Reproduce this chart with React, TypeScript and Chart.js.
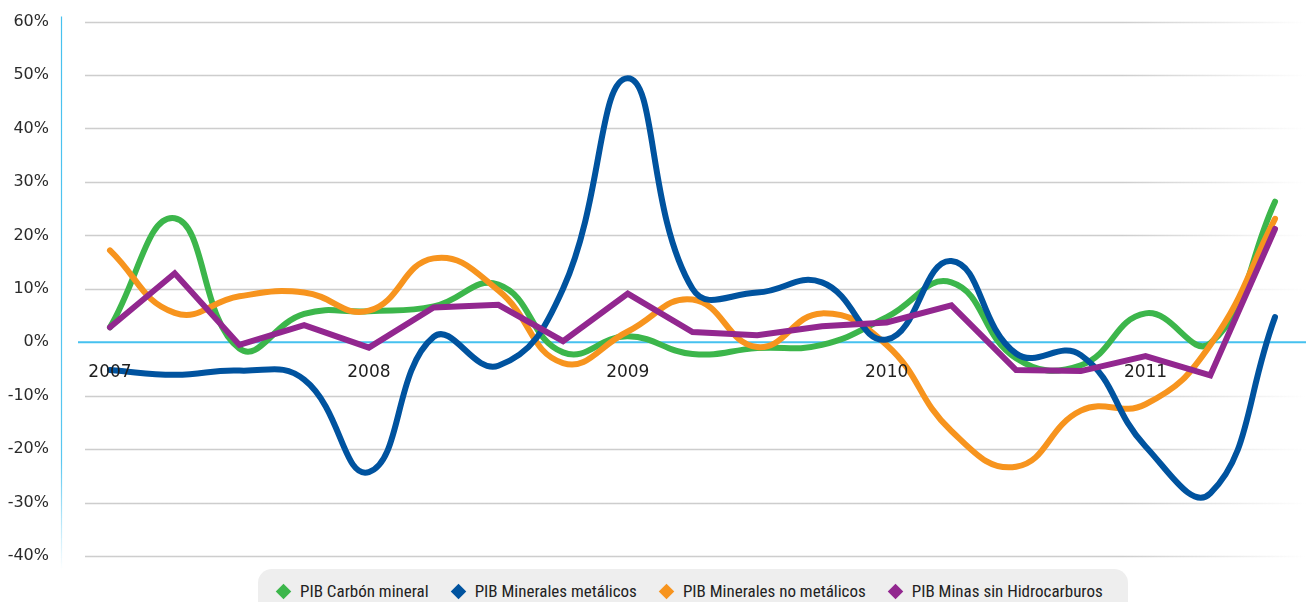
import { useEffect, useRef } from "react";
import { Chart, registerables } from "chart.js";

Chart.register(...registerables);

const quarters = [
  "2007-I", "2007-II", "2007-III", "2007-IV",
  "2008-I", "2008-II", "2008-III", "2008-IV",
  "2009-I", "2009-II", "2009-III", "2009-IV",
  "2010-I", "2010-II", "2010-III", "2010-IV",
  "2011-I", "2011-II", "2011-III",
];
const yearLabels = ["2007", "2008", "2009", "2010", "2011"];
const yearIndex = [0, 4, 8, 12, 16];

const carbon = [2.8, 23.2, -1.2, 5.3, 5.8, 6.7, 10.8, -1.9, 1.1, -2.2, -1.1, -0.5, 4.7, 11.2, -3.0, -4.3, 5.4, -0.2, 26.3];
const metalicos = [-5.2, -6.1, -5.3, -7.0, -24.3, 1.0, -4.4, 10.0, 49.4, 10.0, 9.3, 11.2, 0.5, 15.2, -2.1, -2.4, -19.5, -28.3, 4.7];
const noMetalicos = [17.2, 5.5, 8.6, 9.3, 5.9, 15.7, 9.7, -3.9, 2.0, 8.0, -0.9, 5.4, -0.5, -16.6, -23.3, -12.8, -11.6, -0.5, 23.1];
const minas = [2.8, 12.9, -0.5, 3.2, -1.0, 6.5, 7.0, 0.2, 9.1, 1.9, 1.3, 3.0, 3.7, 6.9, -5.2, -5.4, -2.6, -6.2, 21.2];

const seriesNames = [
  "PIB Carbón mineral",
  "PIB Minerales metálicos",
  "PIB Minerales no metálicos",
  "PIB Minas sin Hidrocarburos",
];
const seriesColors = ["#3CB64B", "#00539F", "#F7941E", "#92278F"];

export default function App() {
  const ref = useRef<HTMLCanvasElement>(null);

  useEffect(() => {
    document.body.style.margin = "0";
    document.body.style.overflow = "hidden";
    const canvas = ref.current;
    if (!canvas) return;
    const toPts = (vals: number[]) => vals.map((v, i) => ({ x: i, y: v }));

    const customPlugin = {
      id: "customDecor",
      beforeDatasetsDraw(chart: any) {
        const { ctx, chartArea, scales } = chart;
        const y = scales.y;
        ctx.save();
        const gStart = chartArea.left + 24;
        const grad = ctx.createLinearGradient(gStart, 0, chartArea.right, 0);
        grad.addColorStop(0, "rgba(200,200,200,0.9)");
        grad.addColorStop(0.85, "rgba(200,200,200,0.9)");
        grad.addColorStop(1, "rgba(200,200,200,0)");
        ctx.strokeStyle = grad;
        ctx.lineWidth = 1.3;
        y.ticks.forEach((t: any) => {
          if (t.value === 0) return;
          const py = Math.round(y.getPixelForValue(t.value)) + 0.5;
          ctx.beginPath();
          ctx.moveTo(gStart, py);
          ctx.lineTo(chartArea.right, py);
          ctx.stroke();
        });
        const zy = y.getPixelForValue(0);
        ctx.strokeStyle = "#46C1EF";
        ctx.lineWidth = 2;
        ctx.beginPath();
        ctx.moveTo(chartArea.left + 17, zy);
        ctx.lineTo(chartArea.right, zy);
        ctx.stroke();
        const ag = ctx.createLinearGradient(0, chartArea.top - 5, 0, chartArea.bottom + 14);
        ag.addColorStop(0, "rgba(70,193,239,1)");
        ag.addColorStop(0.8, "rgba(70,193,239,0.9)");
        ag.addColorStop(1, "rgba(70,193,239,0)");
        ctx.strokeStyle = ag;
        ctx.lineWidth = 1.2;
        ctx.beginPath();
        ctx.moveTo(chartArea.left + 0.5, chartArea.top - 5);
        ctx.lineTo(chartArea.left + 0.5, chartArea.bottom + 14);
        ctx.stroke();
        ctx.restore();
      },
      afterDatasetsDraw(chart: any) {
        const { ctx, scales } = chart;
        const x = scales.x;
        const y = scales.y;
        ctx.save();
        ctx.fillStyle = "#1e1e1e";
        ctx.font = "17px 'DejaVu Sans', sans-serif";
        ctx.textAlign = "center";
        ctx.textBaseline = "alphabetic";
        const base = y.getPixelForValue(0) + 35;
        yearLabels.forEach((lab, k) => {
          ctx.fillText(lab, x.getPixelForValue(yearIndex[k]), base);
        });
        ctx.restore();
      },
    };

    const allSeries = [carbon, metalicos, noMetalicos, minas];
    const orders = [4, 2, 3, 1];
    const chart = new Chart(canvas, {
      type: "line",
      data: {
        labels: quarters,
        datasets: allSeries.map((s, i) => ({
          label: seriesNames[i],
          data: toPts(s),
          borderColor: seriesColors[i],
          backgroundColor: seriesColors[i],
          borderWidth: 6,
          pointRadius: 0,
          pointHoverRadius: 0,
          tension: i === 3 ? 0 : 0.45,
          borderCapStyle: "round",
          borderJoinStyle: i === 3 ? "miter" : "round",
          fill: false,
          order: orders[i],
        })),
      },
      options: {
        animation: false,
        responsive: false,
        maintainAspectRatio: false,
        layout: { padding: { left: 8, right: 0, top: 20, bottom: 46 } },
        plugins: { legend: { display: false }, tooltip: { enabled: false } },
        scales: {
          x: { type: "linear", min: -0.757, max: 18.479, display: false },
          y: {
            min: -40,
            max: 60,
            ticks: {
              stepSize: 10,
              callback: (v: any) => v + "%",
              color: "#2a2a2a",
              font: { family: "'DejaVu Sans', sans-serif", size: 16 },
              padding: 12,
            },
            grid: { display: false, drawTicks: false },
            border: { display: false },
            afterFit: (s: any) => {
              s.width = 53;
            },
          },
        },
      },
      plugins: [customPlugin],
    } as any);
    return () => chart.destroy();
  }, []);

  return (
    <div style={{ position: "absolute", left: 0, top: 0, width: 1306, height: 602, overflow: "hidden", background: "#fff" }}>
      <canvas ref={ref} width={1306} height={602} style={{ width: 1306, height: 602, display: "block" }} />
      <div
        style={{
          position: "absolute",
          left: 258,
          top: 569,
          width: 870,
          height: 33,
          background: "#eeeeee",
          borderRadius: "14px 14px 0 0",
          display: "flex",
          alignItems: "center",
          paddingLeft: 18,
          paddingTop: 11,
          boxSizing: "border-box",
          fontFamily: "'Liberation Sans Narrow', 'Roboto Condensed', 'DejaVu Sans Condensed', sans-serif",
          fontSize: 17,
          color: "#222",
        }}
      >
        {seriesNames.map((n, i) => (
          <div key={n} style={{ display: "flex", alignItems: "center", marginRight: 22, whiteSpace: "nowrap" }}>
            <span
              style={{
                display: "inline-block",
                width: 11,
                height: 11,
                background: seriesColors[i],
                transform: "rotate(45deg)",
                marginLeft: 2,
                marginRight: 11,
              }}
            />
            <span>{n}</span>
          </div>
        ))}
      </div>
    </div>
  );
}
